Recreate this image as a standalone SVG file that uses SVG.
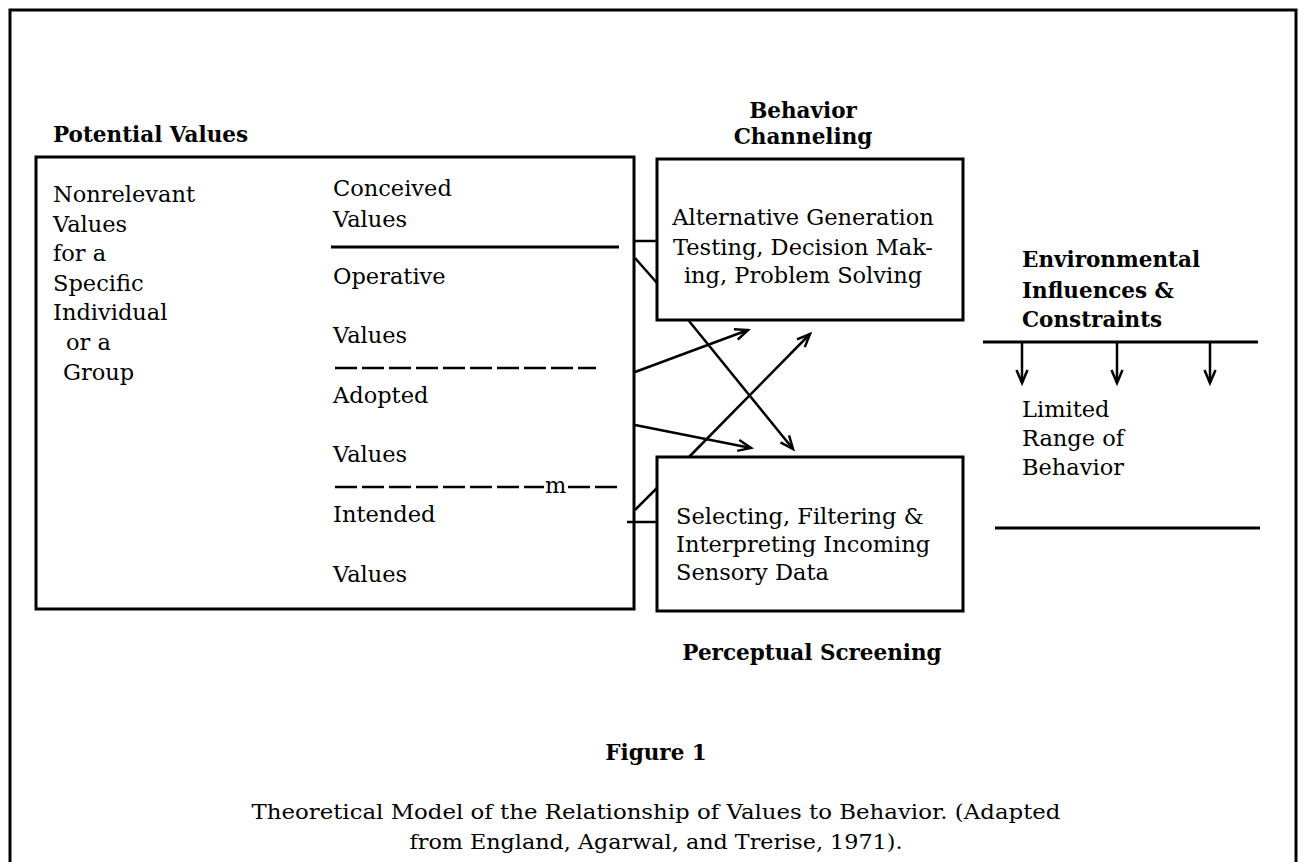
<svg xmlns="http://www.w3.org/2000/svg" width="1305" height="862" viewBox="0 0 1305 862">
<defs>
<style>
.t{font-family:"DejaVu Serif","Liberation Serif",serif;font-size:22.5px;fill:#000}
.b{font-family:"DejaVu Serif","Liberation Serif",serif;font-size:21.5px;font-weight:bold;fill:#000}
.c{text-anchor:middle}
.box{fill:none;stroke:#000;stroke-width:3}
.ln{stroke:#000;stroke-width:2.5;fill:none}
.dash{stroke:#000;stroke-width:2.5;stroke-dasharray:22 5;fill:none}
.arr{stroke:#000;stroke-width:2.5;fill:none;marker-end:url(#ah)}
</style>
<marker id="ah" markerUnits="userSpaceOnUse" markerWidth="20" markerHeight="20" refX="0" refY="0" viewBox="-16 -10 20 20" orient="auto" overflow="visible">
<path d="M-13,-5.5 L0,0 L-13,5.5" fill="none" stroke="#000" stroke-width="2.5"/>
</marker>
</defs>
<rect width="1305" height="862" fill="#fff"/>
<g id="frame">
<path d="M10,862 V10 H1296 V862" class="box"/>
</g>
<g id="potential-values">
<text class="b" x="53" y="142">Potential Values</text>
<rect class="box" x="36" y="157" width="598" height="452"/>
<text class="t" x="53" y="202">Nonrelevant</text>
<text class="t" x="53" y="231.6">Values</text>
<text class="t" x="53" y="261.2">for a</text>
<text class="t" x="53" y="290.8">Specific</text>
<text class="t" x="53" y="320.4">Individual</text>
<text class="t" x="66" y="350">or a</text>
<text class="t" x="63" y="379.6">Group</text>
<text class="t" x="333" y="196">Conceived</text>
<text class="t" x="333" y="227">Values</text>
<line class="box" x1="331" y1="247" x2="619" y2="247"/>
<text class="t" x="333" y="284">Operative</text>
<text class="t" x="333" y="343">Values</text>
<line class="dash" x1="335" y1="368" x2="596" y2="368"/>
<text class="t" x="333" y="403">Adopted</text>
<text class="t" x="333" y="462">Values</text>
<line class="dash" x1="335" y1="487" x2="544" y2="487"/>
<text class="t" x="545" y="493">m</text>
<line class="dash" x1="568" y1="487" x2="617" y2="487"/>
<text class="t" x="333" y="522">Intended</text>
<text class="t" x="333" y="582">Values</text>
</g>
<g id="behavior-channeling">
<text class="b c" x="803" y="118">Behavior</text>
<text class="b c" x="803" y="144">Channeling</text>
<rect class="box" x="657" y="159" width="306" height="161"/>
<text class="t c" x="803" y="225">Alternative Generation</text>
<text class="t c" x="803" y="255">Testing, Decision Mak-</text>
<text class="t c" x="803" y="283">ing, Problem Solving</text>
</g>
<g id="perceptual-screening">
<rect class="box" x="657" y="457" width="306" height="154"/>
<text class="t" x="676" y="524">Selecting, Filtering &amp;</text>
<text class="t" x="676" y="552">Interpreting Incoming</text>
<text class="t" x="676" y="580">Sensory Data</text>
<text class="b c" x="812" y="660">Perceptual Screening</text>
</g>
<g id="environment">
<text class="b" x="1022" y="267">Environmental</text>
<text class="b" x="1022" y="298">Influences &amp;</text>
<text class="b" x="1022" y="327">Constraints</text>
<line class="box" x1="983" y1="342" x2="1258" y2="342"/>
<line class="arr" x1="1022" y1="342" x2="1022" y2="383"/>
<line class="arr" x1="1117" y1="342" x2="1117" y2="383"/>
<line class="arr" x1="1210" y1="342" x2="1210" y2="383"/>
<text class="t" x="1022" y="417">Limited</text>
<text class="t" x="1022" y="446">Range of</text>
<text class="t" x="1022" y="475">Behavior</text>
<line class="box" x1="995" y1="528" x2="1260" y2="528"/>
</g>
<g id="connectors">
<line class="ln" x1="635" y1="241" x2="657" y2="241"/>
<line class="ln" x1="635" y1="258" x2="657" y2="283"/>
<line class="arr" x1="635" y1="372" x2="748" y2="330"/>
<line class="arr" x1="689" y1="457" x2="810" y2="334"/>
<line class="arr" x1="689" y1="321" x2="793" y2="449"/>
<line class="arr" x1="635" y1="425" x2="751" y2="448"/>
<line class="ln" x1="635" y1="510" x2="657" y2="488"/>
<line class="ln" x1="627" y1="522" x2="657" y2="522"/>
</g>
<g id="caption">
<text class="b c" x="656" y="760">Figure 1</text>
<text class="t c" x="656" y="819" textLength="809" lengthAdjust="spacingAndGlyphs" style="font-size:21px">Theoretical Model of the Relationship of Values to Behavior. (Adapted</text>
<text class="t c" x="656" y="849" textLength="493" lengthAdjust="spacingAndGlyphs" style="font-size:21px">from England, Agarwal, and Trerise, 1971).</text>
</g>
</svg>
